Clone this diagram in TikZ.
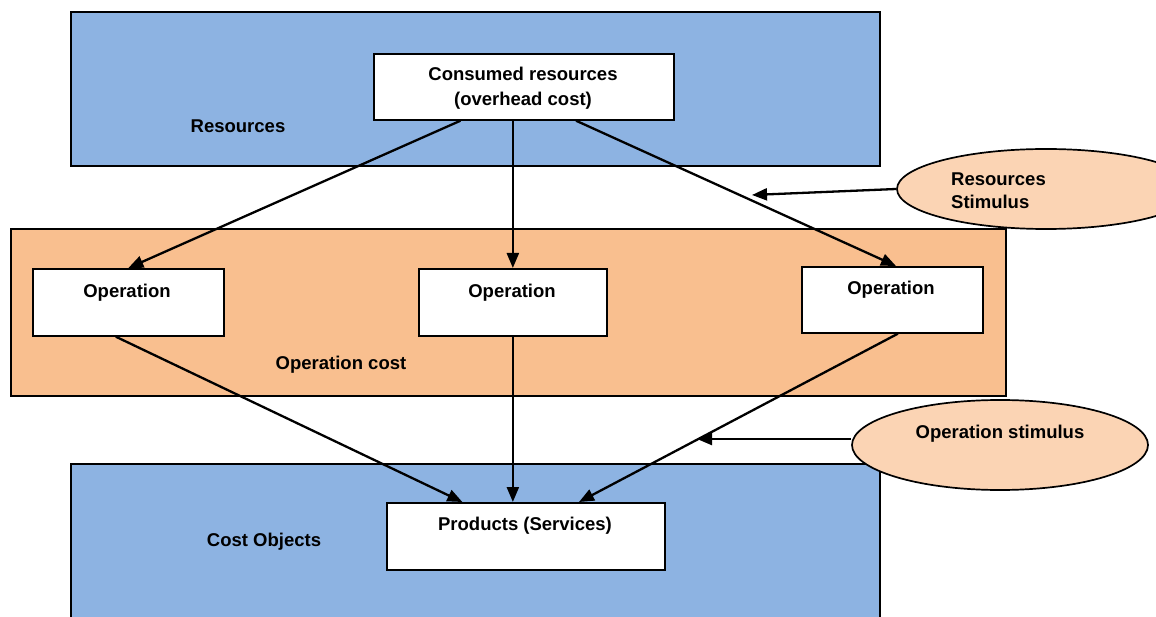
\documentclass[tikz,border=0pt]{standalone}
\usepackage{fontspec}
\setmainfont{Liberation Sans}
\usetikzlibrary{arrows.meta,calc,shapes.geometric}
\definecolor{blueF}{HTML}{8DB3E2}
\definecolor{orangeF}{HTML}{F9BF8F}
\definecolor{ellF}{HTML}{FBD4B4}
\begin{document}
\begin{tikzpicture}[x=1pt,y=-1pt,
  region/.style={draw=black, line width=1.7pt, inner sep=0pt, anchor=north west},
  wbox/.style={draw=black, fill=white, line width=1.7pt, inner sep=0pt, anchor=north west},
  lbl/.style={font=\fontsize{18.5}{25}\selectfont\bfseries, inner sep=0pt},
  conn/.style={line width=2.3pt, -{Triangle[length=15pt,width=12pt]}},
  stim/.style={ellipse, draw=black, fill=ellF, line width=1.7pt, inner sep=0pt}]
\useasboundingbox (0,0) rectangle (1156,617);
\begin{scope}
\clip (0,0) rectangle (1156,617);
\fill[white] (0,0) rectangle (1156,617);
% regions
\node[region, fill=blueF, minimum width=809pt, minimum height=154pt] (resR) at (70,11) {};
\node[region, fill=orangeF, minimum width=995pt, minimum height=167pt] (opR) at (10,228) {};
\node[region, fill=blueF, minimum width=809pt, minimum height=200pt] (coR) at (70,463) {};
% boxes
\node[wbox, minimum width=300pt, minimum height=66pt] (cons) at (373,53) {};
\node[wbox, minimum width=191pt, minimum height=67pt] (op1) at (32,268) {};
\node[wbox, minimum width=188pt, minimum height=67pt] (op2) at (418,268) {};
\node[wbox, minimum width=181pt, minimum height=66pt] (op3) at (801,266) {};
\node[wbox, minimum width=278pt, minimum height=67pt] (prod) at (386,502) {};
% connectors
\draw[conn] ($(cons.south west)!0.29!(cons.south east)$) -- (op1.north);
\draw[conn] (op2.north |- cons.south) -- (op2.north);
\draw[conn] ($(cons.south west)!0.673!(cons.south east)$) -- ($(op3.north west)!0.52!(op3.north east)$);
\draw[conn] ($(op1.south west)!0.435!(op1.south east)$) -- ($(prod.north west)!0.273!(prod.north east)$);
\draw[conn] (op2.south) -- (op2.south |- prod.north);
\draw[conn] ($(op3.south west)!0.53!(op3.south east)$) -- ($(prod.north west)!0.69!(prod.north east)$);
% stimuli
\node[stim, minimum width=298pt, minimum height=80pt] (rs) at (1046,189) {};
\node[stim, minimum width=296pt, minimum height=90pt] (os) at (1000,445) {};
\coordinate (rsTip) at (752,195);
\coordinate (osTip) at (697,439);
\draw[conn] (rs.west) -- (rsTip);
\draw[conn] ($(os.west)+(0,-6)$) -- (osTip);
% labels
\node[lbl, align=center] (tCons) at (523,88) {Consumed resources\\(overhead cost)};
\node[lbl] (tRes) at (238,126) {Resources};
\node[lbl] (tOp1) at (127,293) {Operation};
\node[lbl] (tOp2) at (512,293) {Operation};
\node[lbl] (tOp3) at (891,290) {Operation};
\node[lbl] (tOpC) at (341,365) {Operation cost};
\node[lbl] (tProd) at (525,526) {Products (Services)};
\node[lbl] (tCo) at (264,542) {Cost Objects};
\node[lbl, align=left, anchor=west, font=\fontsize{18.5}{23}\selectfont\bfseries] (tRs) at (951,191) {Resources\\Stimulus};
\node[lbl] (tOs) at (1000,434) {Operation stimulus};
\end{scope}
\end{tikzpicture}
\end{document}
